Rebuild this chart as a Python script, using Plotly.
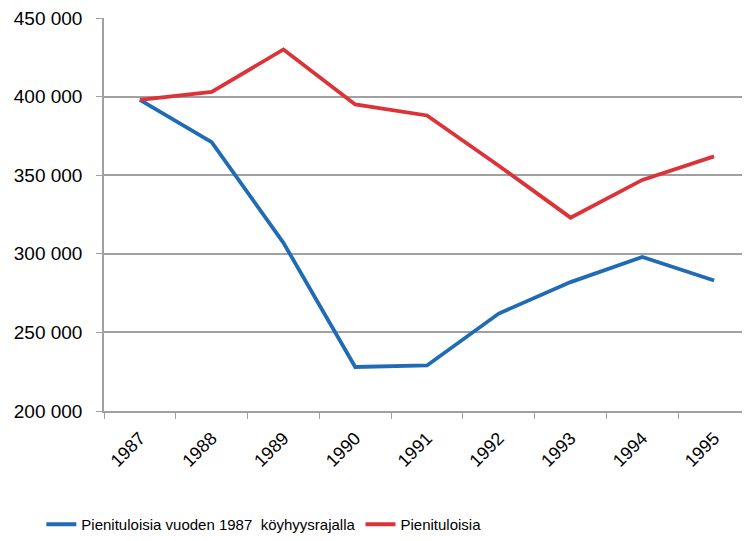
import plotly.graph_objects as go

years = ["1987", "1988", "1989", "1990", "1991", "1992", "1993", "1994", "1995"]
poor_1987_line = [398000, 371000, 307000, 228000, 229000, 262000, 282000, 298000, 283000]
poor = [398000, 403000, 430000, 395000, 388000, 356000, 323000, 347000, 362000]
y_ticks = [200000, 250000, 300000, 350000, 400000, 450000]
y_tick_text = ["200 000", "250 000", "300 000", "350 000", "400 000", "450 000"]

fig = go.Figure()
fig.add_trace(go.Scatter(x=years, y=poor_1987_line, mode="lines",
                         name="Pienituloisia vuoden 1987  köyhyysrajalla",
                         line=dict(color="#1F6BB5", width=3.8)))
fig.add_trace(go.Scatter(x=years, y=poor, mode="lines",
                         name="Pienituloisia",
                         line=dict(color="#DC3339", width=3.8)))

fig.update_layout(
    width=742, height=533,
    margin=dict(l=96, r=0, t=10, b=125),
    paper_bgcolor="white", plot_bgcolor="white",
    font=dict(family="Liberation Sans, Arial, sans-serif", size=18, color="#000000"),
    showlegend=True,
    legend=dict(orientation="h", x=-0.097, xanchor="left", y=-0.29, yanchor="middle",
                font=dict(size=15), itemwidth=30, tracegroupgap=0),
    xaxis=dict(type="category", tickangle=-45, showgrid=False,
               showline=True, linecolor="#A0A0A0", linewidth=1.5,
               ticks="outside", tickson="boundaries", ticklen=6, tickcolor="#A0A0A0",
               tickfont=dict(size=18), range=[-0.5, 8.5], ticklabelstandoff=8),
    yaxis=dict(range=[200000, 450020], tickvals=y_ticks, ticktext=y_tick_text,
               ticklabeloverflow="allow", ticklabelstandoff=10,
               showgrid=True, gridcolor="#A0A0A0", gridwidth=1.5,
               showline=True, linecolor="#A0A0A0", linewidth=1.5,
               ticks="outside", ticklen=6, tickcolor="#A0A0A0",
               tickfont=dict(size=19), zeroline=False),
)

fig.write_html("out.html")
